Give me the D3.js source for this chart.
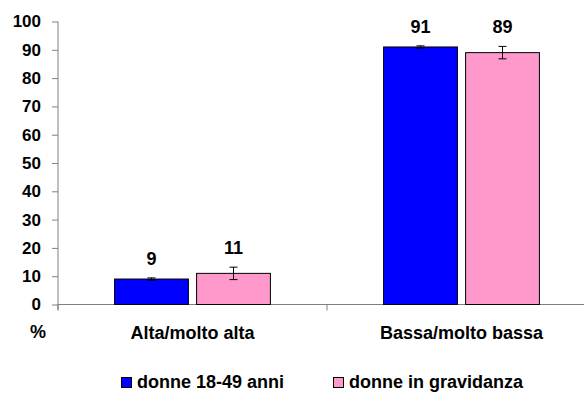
<!DOCTYPE html>
<html>
<head>
<meta charset="utf-8">
<script src="https://cdn.jsdelivr.net/npm/d3@7"></script>
<style>
  html, body { margin: 0; padding: 0; background: #fff; }
  svg text { font-family: "Liberation Sans", Arial, sans-serif; font-weight: 700; fill: #000; }
</style>
</head>
<body>
<svg id="chart" width="584" height="405"></svg>
<script>
const categories = ["Alta/molto alta", "Bassa/molto bassa"];
const seriesNames = ["donne 18-49 anni", "donne in gravidanza"];
const seriesColors = ["#0000FF", "#FF99CC"];
const valuesDonne = [9, 91];
const valuesGravidanza = [11, 89];
const errorsDonne = [0.4, 0.4];
const errorsGravidanza = [2.2, 2.2];
const yTicks = [0, 10, 20, 30, 40, 50, 60, 70, 80, 90, 100];

const seriesValues = [valuesDonne, valuesGravidanza];
const seriesErrors = [errorsDonne, errorsGravidanza];

const svg = d3.select("#chart");

const x0 = d3.scaleBand().domain(categories).range([58, 596]).paddingInner(0).paddingOuter(0);
const x1 = d3.scaleBand().domain(seriesNames).range([0, x0.bandwidth()]).paddingInner(0.1).paddingOuter(0.69);
const y = d3.scaleLinear().domain([0, 100]).range([304.5, 21.5]);

// Y axis
const yAxis = svg.append("g").attr("transform", "translate(58,0)")
  .call(d3.axisLeft(y).tickValues(yTicks).tickSize(6).tickPadding(11));
yAxis.select(".domain").attr("stroke", "#808080").attr("d", "M0,21.5V310");
yAxis.selectAll(".tick line").attr("stroke", "#808080");
yAxis.selectAll(".tick text").style("font-size", "17px");

// X axis
const xAxis = svg.append("g").attr("transform", "translate(0,304.5)")
  .call(d3.axisBottom(x0).tickSize(0).tickFormat(""));
xAxis.select(".domain").attr("stroke", "#808080").attr("d", "M58,0H596");
xAxis.selectAll(".tick").remove();
const boundaries = categories.map(c => x0(c)).concat([x0(categories[categories.length - 1]) + x0.bandwidth()]);
svg.append("g").selectAll("line").data(boundaries).join("line")
  .attr("x1", d => d).attr("x2", d => d)
  .attr("y1", 304.5).attr("y2", 310.5)
  .attr("stroke", "#808080");

// Category labels
svg.append("g").selectAll("text").data(categories).join("text")
  .attr("x", d => x0(d) + x1(seriesNames[0]) + (x1(seriesNames[1]) + x1.bandwidth() - x1(seriesNames[0])) / 2)
  .attr("y", 339)
  .attr("text-anchor", "middle")
  .style("font-size", "18px")
  .text(d => d);

svg.append("text").attr("x", 38).attr("y", 338).attr("text-anchor", "middle")
  .style("font-size", "18px").text("%");

// Bars
const groups = svg.append("g").selectAll("g").data(categories).join("g")
  .attr("transform", d => `translate(${x0(d)},0)`);

seriesNames.forEach((s, si) => {
  groups.append("rect")
    .attr("x", x1(s))
    .attr("width", x1.bandwidth())
    .attr("y", (d, ci) => y(seriesValues[si][ci]))
    .attr("height", (d, ci) => y(0) - y(seriesValues[si][ci]))
    .attr("fill", seriesColors[si])
    .attr("stroke", "#000")
    .attr("stroke-width", 1);

  const cx = x1(s) + x1.bandwidth() / 2;
  groups.append("line")
    .attr("x1", cx).attr("x2", cx)
    .attr("y1", (d, ci) => y(seriesValues[si][ci] + seriesErrors[si][ci]))
    .attr("y2", (d, ci) => y(seriesValues[si][ci] - seriesErrors[si][ci]))
    .attr("stroke", "#000");
  [1, -1].forEach(sign => {
    groups.append("line")
      .attr("x1", cx - 4).attr("x2", cx + 4)
      .attr("y1", (d, ci) => y(seriesValues[si][ci] + sign * seriesErrors[si][ci]))
      .attr("y2", (d, ci) => y(seriesValues[si][ci] + sign * seriesErrors[si][ci]))
      .attr("stroke", "#000");
  });

  groups.append("text")
    .attr("x", cx)
    .attr("y", (d, ci) => y(seriesValues[si][ci] + seriesErrors[si][ci]) - 13)
    .attr("text-anchor", "middle")
    .style("font-size", "18px")
    .text((d, ci) => seriesValues[si][ci]);
});

// Legend
const legendX = [121, 333];
const legend = svg.append("g").selectAll("g").data(seriesNames).join("g")
  .attr("transform", (d, i) => `translate(${legendX[i]},0)`);
legend.append("rect").attr("x", 0.5).attr("y", 377.5).attr("width", 10).attr("height", 10)
  .attr("fill", (d, i) => seriesColors[i]).attr("stroke", "#000");
legend.append("text").attr("x", 16).attr("y", 388)
  .style("font-size", "18px").text(d => d);
</script>
</body>
</html>
